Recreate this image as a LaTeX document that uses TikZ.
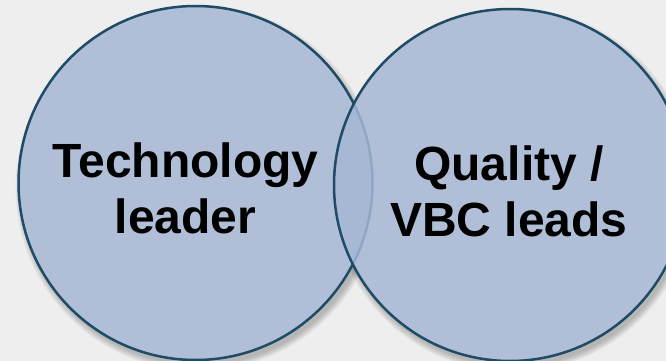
\documentclass[tikz,border=0pt]{standalone}
\usepackage{fontspec}
\setmainfont{Liberation Sans}
\begin{document}
\begin{tikzpicture}[x=1pt,y=-1pt,
  venn/.style={circle,minimum size=#1,inner sep=0pt},
  vennfill/.style={fill=vennblue,fill opacity=0.85},
  vennline/.style={draw=vennedge,line width=2.5pt},
  lbl/.style={font=\bfseries\fontsize{48}{56}\selectfont,align=center,text=black,inner sep=0pt}]
\definecolor{bg}{RGB}{238,238,238}
\definecolor{vennblue}{RGB}{166,183,212}
\definecolor{vennedge}{RGB}{30,75,102}
\fill[bg] (0,0) rectangle (666,361);
\useasboundingbox (0,0) rectangle (666,361);
\coordinate (cl) at (195.5,183);
\coordinate (cr) at (510,185);
% soft shadows
\foreach \k in {0,...,6}{
  \fill[black,opacity=0.035] ([shift={(3,5)}]cl) circle ({177+6-\k});
  \fill[black,opacity=0.035] ([shift={(3,5)}]cr) circle ({176+6-\k});
}
\fill[bg] (cl) circle (177);
\fill[bg] (cr) circle (176);
\node[venn=354pt,vennfill] (L) at (cl) {};
\draw[vennline] (cl) circle (177);
\node[venn=352pt,vennfill] (R) at (cr) {};
\draw[vennline] (cr) circle (176);
\node[lbl] (tl) at (185.5,188) {Technology\\leader};
\node[lbl] (tr) at (509,191) {Quality /\\VBC leads};
\end{tikzpicture}
\end{document}
